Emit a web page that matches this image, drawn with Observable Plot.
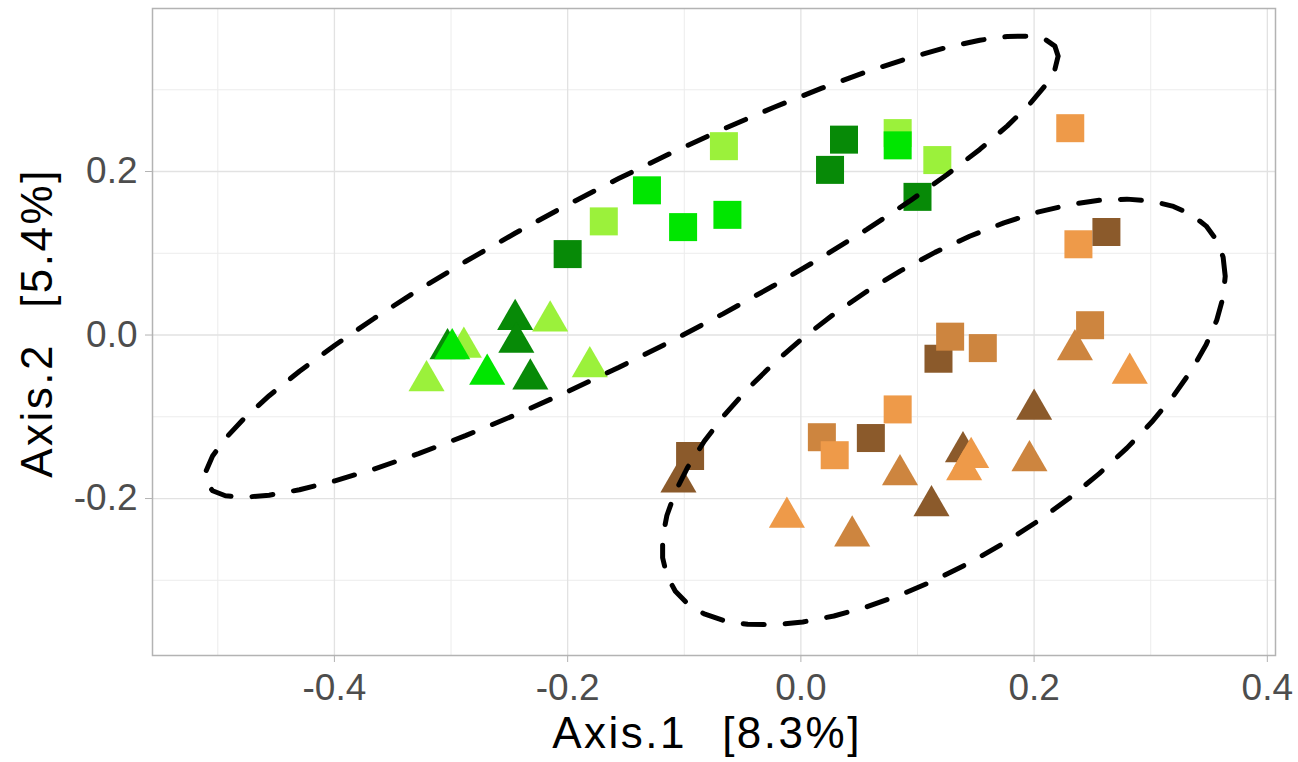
<!DOCTYPE html>
<html>
<head>
<meta charset="utf-8">
<script src="https://cdn.jsdelivr.net/npm/d3@7"></script>
<script src="https://cdn.jsdelivr.net/npm/@observablehq/plot@0.6"></script>
<style>
  html, body { margin: 0; padding: 0; background: #fff; }
  svg text { white-space: pre; }
  g[aria-label="text"] text { letter-spacing: 2.5px; word-spacing: -3px; }
</style>
</head>
<body>
<div id="chart"></div>
<script>
// ---- data ----
const pointGroup = [
  "G","G","G","G","G","G","G","G","G","G","G","G",
  "G","G","G","G","G","G","G","G","G","G",
  "B","B","B","B","B","B","B","B","B","B","B","B",
  "B","B","B","B","B","B","B","B","B","B","B","B"
];
const pointColor = [
  "G3","G1","G2","G2","G2","G1","G3","G3","G1","G2","G1","G3",
  "G1","G3","G2","G3","G3","G3","G1","G1","G2","G1",
  "B3","B2","B1","B3","B1","B1","B1","B3","B3","B2","B2","B2",
  "B2","B1","B3","B3","B1","B1","B2","B3","B2","B3","B1","B2"
];
const pointShape = [
  "Square","Square","Square","Square","Square","Square","Square","Square","Square","Square","Square","Square",
  "Triangle","Triangle","Triangle","Triangle","Triangle","Triangle","Triangle","Triangle","Triangle","Triangle",
  "Square","Square","Square","Square","Square","Square","Square","Square","Square","Square","Square","Triangle",
  "Square","Triangle","Triangle","Triangle","Triangle","Triangle","Triangle","Triangle","Triangle","Triangle","Triangle","Triangle"
];
const axis1 = [
  -0.200,-0.169,-0.132,-0.101,-0.063,-0.066,0.025,0.037,0.083,0.083,0.117,0.100,
  -0.289,-0.303,-0.299,-0.245,-0.244,-0.232,-0.215,-0.181,-0.269,-0.321,
  -0.095,0.018,0.029,0.060,0.083,0.231,0.238,0.262,0.118,0.128,0.156,0.235,
  0.248,0.282,0.200,0.139,0.146,0.140,0.196,-0.105,0.085,0.112,-0.012,0.044
];
const axis2 = [
  0.099,0.139,0.177,0.132,0.147,0.231,0.202,0.239,0.247,0.232,0.214,0.169,
  -0.015,-0.017,-0.017,0.019,-0.009,-0.054,0.017,-0.039,-0.048,-0.056,
  -0.148,-0.125,-0.147,-0.126,-0.091,0.253,0.111,0.126,-0.029,-0.002,-0.016,-0.018,
  0.012,-0.047,-0.091,-0.143,-0.150,-0.165,-0.154,-0.180,-0.171,-0.209,-0.223,-0.246
];
const colorLevels = ["G1","G2","G3","B1","B2","B3"];
const xTicks = [-0.4, -0.2, 0.0, 0.2, 0.4];
const xMinorTicks = [-0.5, -0.3, -0.1, 0.1, 0.3];
const yTicks = [-0.2, 0.0, 0.2];
const yMinorTicks = [-0.3, -0.1, 0.1, 0.3];
const xTitle = "Axis.1   [8.3%]";
const yTitle = "Axis.2   [5.4%]";

// ---- build table ----
const points = axis1.map((a, i) => ({
  a1: a, a2: axis2[i], group: pointGroup[i], color: pointColor[i], shape: pointShape[i]
}));

// ---- stat_ellipse (type "t", level 0.95) : MASS::cov.trob + F quantile ----
function covTrob(pts) {
  const n = pts.length, p = 2, nu = 5, tol = 0.01, maxit = 25;
  let loc = [d3.mean(pts, d => d[0]), d3.mean(pts, d => d[1])];
  let w = pts.map(() => 1);
  let X;
  for (let iter = 0; iter < maxit; iter++) {
    const w0 = w.slice();
    X = pts.map(([a, b]) => [a - loc[0], b - loc[1]]);
    const sw = d3.sum(w);
    let m11 = 0, m12 = 0, m22 = 0;
    X.forEach(([a, b], i) => { const f = w[i] / sw; m11 += f * a * a; m12 += f * a * b; m22 += f * b * b; });
    const det = m11 * m22 - m12 * m12;
    const i11 = m22 / det, i12 = -m12 / det, i22 = m11 / det;
    const Q = X.map(([a, b]) => a * a * i11 + 2 * a * b * i12 + b * b * i22);
    w = Q.map(q => (nu + p) / (nu + q));
    const sw2 = d3.sum(w);
    loc = [d3.sum(pts, (d, i) => w[i] * d[0]) / sw2, d3.sum(pts, (d, i) => w[i] * d[1]) / sw2];
    if (w.every((v, i) => Math.abs(v - w0[i]) < tol)) break;
  }
  let c11 = 0, c12 = 0, c22 = 0;
  X.forEach(([a, b], i) => { c11 += w[i] * a * a; c12 += w[i] * a * b; c22 += w[i] * b * b; });
  return { center: loc, cov: [c11 / n, c12 / n, c22 / n] };
}
function ellipseFor(group) {
  const pts = points.filter(d => d.group === group).map(d => [d.a1, d.a2]);
  const { center, cov } = covTrob(pts);
  const dfd = pts.length - 1, level = 0.95, segments = 51;
  const fq = (dfd / 2) * (Math.pow(1 - level, -2 / dfd) - 1);
  const radius = Math.sqrt(2 * fq);
  const r11 = Math.sqrt(cov[0]), r12 = cov[1] / r11, r22 = Math.sqrt(cov[2] - r12 * r12);
  const out = [];
  for (let k = 0; k <= segments; k++) {
    const t = k * 2 * Math.PI / segments;
    const c = Math.cos(t), s = Math.sin(t);
    out.push({ group, a1: center[0] + radius * c * r11, a2: center[1] + radius * (c * r12 + s * r22) });
  }
  return out;
}
const ellipses = [...ellipseFor("G"), ...ellipseFor("B")];

const font = "'Liberation Sans', Arial, sans-serif";

const chart = Plot.plot({
  width: 1298,
  height: 762,
  marginLeft: 152,
  marginRight: 23,
  marginTop: 8,
  marginBottom: 107,
  style: { fontFamily: font, fontSize: "37px", background: "#fff" },
  x: { domain: [-0.556, 0.407], label: null },
  y: { domain: [-0.392, 0.3994], label: null },
  color: { domain: colorLevels, range: ["#9BF13B", "#00E600", "#078A07", "#EE9A49", "#CD853F", "#8B5A2B"] },
  symbol: { domain: ["Square", "Triangle"], range: ["square", "triangle"] },
  r: { type: "linear", domain: [0, 100], range: [0, 100] },
  marks: [
    Plot.ruleX(xMinorTicks, { stroke: "#ececec", strokeWidth: 1 }),
    Plot.ruleY(yMinorTicks, { stroke: "#ececec", strokeWidth: 1 }),
    Plot.ruleX(xTicks, { stroke: "#e2e2e2", strokeWidth: 1.3 }),
    Plot.ruleY(yTicks, { stroke: "#e2e2e2", strokeWidth: 1.3 }),
    Plot.frame({ stroke: "#b3b3b3", strokeWidth: 1.5 }),
    Plot.axisX(xTicks, {
      anchor: "bottom", tickSize: 7, tickPadding: 11, stroke: "#b3b3b3", fill: "#4d4d4d",
      tickFormat: d => d.toFixed(1), label: null, fontSize: 37
    }),
    Plot.axisY(yTicks, {
      anchor: "left", tickSize: 7, tickPadding: 8, stroke: "#b3b3b3", fill: "#4d4d4d",
      tickFormat: d => d.toFixed(1), label: null, fontSize: 37
    }),
    Plot.dot(points, {
      x: "a1", y: "a2", fill: "color", symbol: "shape",
      r: d => (d.shape === "Square" ? 15.8 : 13.4), stroke: null
    }),
    Plot.line(ellipses, {
      x: "a1", y: "a2", z: "group", stroke: "black", strokeWidth: 5,
      strokeDasharray: "21,21", curve: "linear"
    }),
    Plot.text([xTitle], {
      text: d => d, frameAnchor: "bottom", dx: -7, dy: 78, fontSize: 44, fill: "black",
      textAnchor: "middle", lineAnchor: "middle"
    }),
    Plot.text([yTitle], {
      text: d => d, frameAnchor: "left", dx: -115, dy: -9, rotate: -90, fontSize: 44, fill: "black",
      textAnchor: "middle", lineAnchor: "middle"
    })
  ]
});
document.getElementById("chart").appendChild(chart);
</script>
</body>
</html>
